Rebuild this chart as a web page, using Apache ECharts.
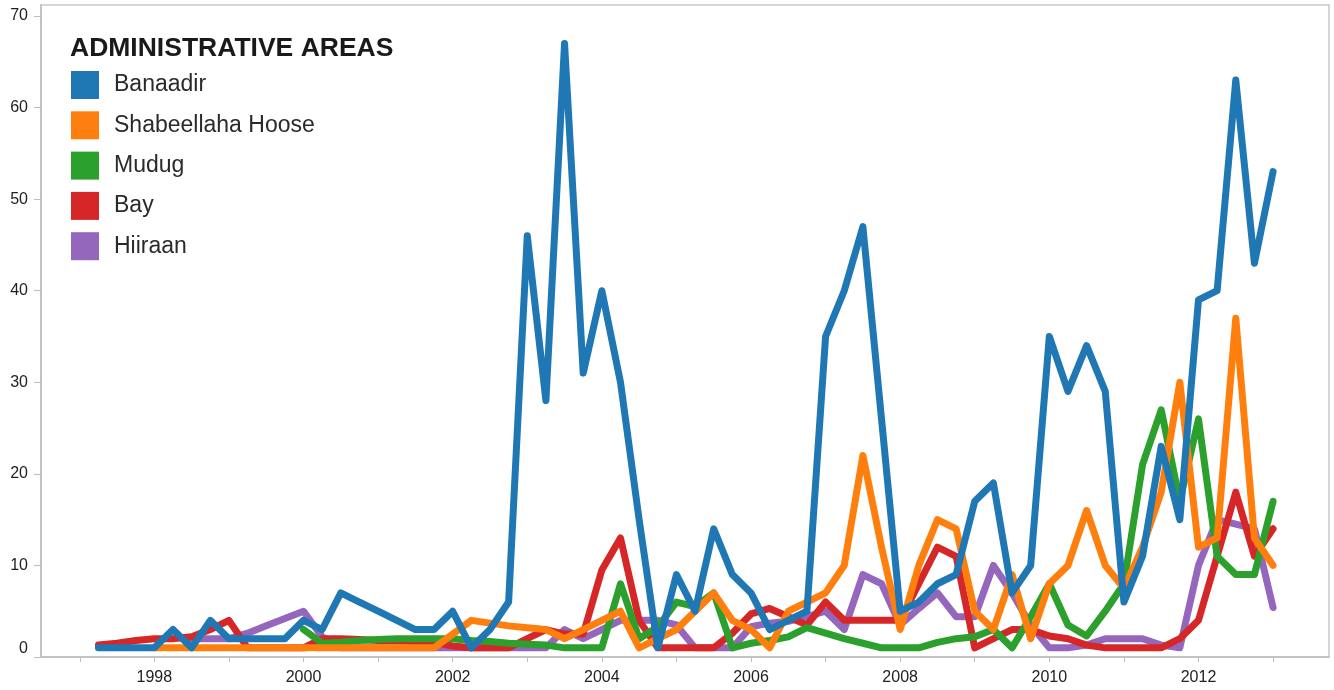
<!DOCTYPE html>
<html>
<head>
<meta charset="utf-8">
<script src="https://cdn.jsdelivr.net/npm/echarts@6/dist/echarts.min.js"></script>
<style>
  html, body { margin: 0; padding: 0; background: #fff; }
  #chart { width: 1334px; height: 690px; }
</style>
</head>
<body>
<div id="chart"></div>
<script>
// Quarters (quarter-start dates), 1997 Q2 .. 2013 Q1
const quarters = [
  '1997-Q2','1997-Q3','1997-Q4',
  '1998-Q1','1998-Q2','1998-Q3','1998-Q4',
  '1999-Q1','1999-Q2','1999-Q3','1999-Q4',
  '2000-Q1','2000-Q2','2000-Q3','2000-Q4',
  '2001-Q1','2001-Q2','2001-Q3','2001-Q4',
  '2002-Q1','2002-Q2','2002-Q3','2002-Q4',
  '2003-Q1','2003-Q2','2003-Q3','2003-Q4',
  '2004-Q1','2004-Q2','2004-Q3','2004-Q4',
  '2005-Q1','2005-Q2','2005-Q3','2005-Q4',
  '2006-Q1','2006-Q2','2006-Q3','2006-Q4',
  '2007-Q1','2007-Q2','2007-Q3','2007-Q4',
  '2008-Q1','2008-Q2','2008-Q3','2008-Q4',
  '2009-Q1','2009-Q2','2009-Q3','2009-Q4',
  '2010-Q1','2010-Q2','2010-Q3','2010-Q4',
  '2011-Q1','2011-Q2','2011-Q3','2011-Q4',
  '2012-Q1','2012-Q2','2012-Q3','2012-Q4',
  '2013-Q1'
];

const seriesNames = ['Banaadir', 'Shabeellaha Hoose', 'Mudug', 'Bay', 'Hiiraan'];
const seriesColors = ['#1f77b4', '#ff7f0e', '#2ca02c', '#d62728', '#9467bd'];

const banaadir = [1,1,1, 1,3,1,4, 2,2,2,2, 4,3,7,6, 5,4,3,3, 5,1,3,6, 46,28,67,31, 40,30,15,1,
  9,5,14,9, 7,3,4,5, 35,40,47,26, 5,6,8,9, 17,19,7,10, 35,29,34,29, 6,11,23,15, 39,40,63,43, 53];

const shabeellahaHoose = [null,null,null, 1,1,1,1, 1,1,1,1, 1,1,1,1, 1,1,1,1, 2.5,4,3.7,3.4,
  3.2,3,2,3, 4,5,1,2, 3,5,7,4, 3,1,5,6, 7,10,22,12, 3,10,15,14, 5,3,9,2, 8,10,16,10,
  7.5,12,18,30, 12,13,37,13, 10];

const mudug = [null,null,null, null,null,null,null, null,null,null,null, 3,1.5,1.6,1.8,
  1.9,2,2,2, 2,1.8,1.7,1.5, 1.4,1.3,1,1, 1,8,2,3.3, 6,5.5,7,1, 1.5,1.8,2.2,3.2,
  2.6,2,1.5,1, 1,1,1.6,2, 2.2,3,1,4.4, 8,3.5,2.3,5, 8,21,27,17, 26,11,9,9, 17];

const bay = [1.3,1.5,1.8, 2,2,2.2,3, 4,1,1,1, 1,2,2,1.9, 1.8,1.8,1.7,1.6, 1.2,1,1,1,
  2,3,2.5,2.5, 9.5,13,4,1, 1,1,1,2.6, 4.7,5.3,4.4,3.5, 6,4,4,4, 4,8,12,11,
  1,2,3,3, 2.3,2,1.3,1, 1,1,1,2, 4,11,18,11, 14];

const hiiraan = [null,null,null, null,null,2,2, 2,2.6,3.4,4.2, 5,2.2,1,1, 1,1,1,1, 1,1,1,1,
  1,1,3,2, 3,4,4,4, 3.5,1,1,1, 3.3,3.7,3.9,4.4, 5,3,9,8, 3.5,5.3,7,4.4,
  4.4,10,7,3.5, 1,1,1.3,2, 2,2,1.3,1, 10,15,14.5,14, 5.4];

const seriesValues = [banaadir, shabeellahaHoose, mudug, bay, hiiraan];

const yTickValues = [0, 10, 20, 30, 40, 50, 60, 70];
const xTickYears = [1997,1998,1999,2000,2001,2002,2003,2004,2005,2006,2007,2008,2009,2010,2011,2012,2013];
const xLabelYears = [1998, 2000, 2002, 2004, 2006, 2008, 2010, 2012];

function quarterToYear(q) {
  const parts = q.split('-Q');
  return Number(parts[0]) + (Number(parts[1]) - 1) / 4;
}

const FONT = "'Liberation Sans', Arial, sans-serif";
const chart = echarts.init(document.getElementById('chart'), null, { renderer: 'canvas' });

const series = seriesNames.map((name, i) => ({
  name: name,
  type: 'line',
  data: quarters.map((q, k) => [quarterToYear(q), seriesValues[i][k]]),
  connectNulls: true,
  showSymbol: false,
  symbol: 'none',
  z: 10 - i,
  lineStyle: { color: seriesColors[i], width: 7, cap: 'round', join: 'round' },
  itemStyle: { color: seriesColors[i] },
  emphasis: { disabled: true }
}));

chart.setOption({
  animation: false,
  backgroundColor: '#ffffff',
  textStyle: { fontFamily: FONT },
  title: {
    text: 'ADMINISTRATIVE AREAS',
    left: 70,
    top: 35,
    padding: 0,
    textStyle: { fontFamily: FONT, fontSize: 26.5, fontWeight: 'bold', color: '#1a1a1a' }
  },
  legend: {
    data: seriesNames,
    orient: 'vertical',
    left: 71,
    top: 71,
    padding: 0,
    itemWidth: 28,
    itemHeight: 28,
    itemGap: 12.3,
    icon: 'rect',
    selectedMode: false,
    textStyle: { fontFamily: FONT, fontSize: 23, color: '#2a2a2a', padding: [0, 0, 0, 10] }
  },
  grid: {
    left: 41, right: 5, top: 5, bottom: 33,
    show: true, borderColor: '#c8c8c8', borderWidth: 1.5, backgroundColor: 'transparent'
  },
  xAxis: {
    type: 'value',
    min: 1996.48,
    max: 2013.75,
    axisLine: { show: true, lineStyle: { color: '#bdbdbd', width: 1.5 } },
    axisTick: { show: true, length: 5, customValues: xTickYears, lineStyle: { color: '#bdbdbd', width: 1 } },
    axisLabel: {
      customValues: xLabelYears,
      margin: 13,
      fontSize: 16,
      color: '#222',
      fontFamily: FONT,
      formatter: v => String(Math.round(v))
    },
    splitLine: { show: false }
  },
  yAxis: {
    type: 'value',
    min: 0,
    max: 71.2,
    axisLine: { show: true, lineStyle: { color: '#bdbdbd', width: 1.5 } },
    axisTick: { show: true, length: 7, customValues: yTickValues, lineStyle: { color: '#bdbdbd', width: 1 } },
    axisLabel: {
      customValues: yTickValues,
      margin: 13,
      fontSize: 16,
      color: '#222',
      fontFamily: FONT,
      verticalAlignMinLabel: 'bottom'
    },
    splitLine: { show: false }
  },
  series: series
});
</script>
</body>
</html>
